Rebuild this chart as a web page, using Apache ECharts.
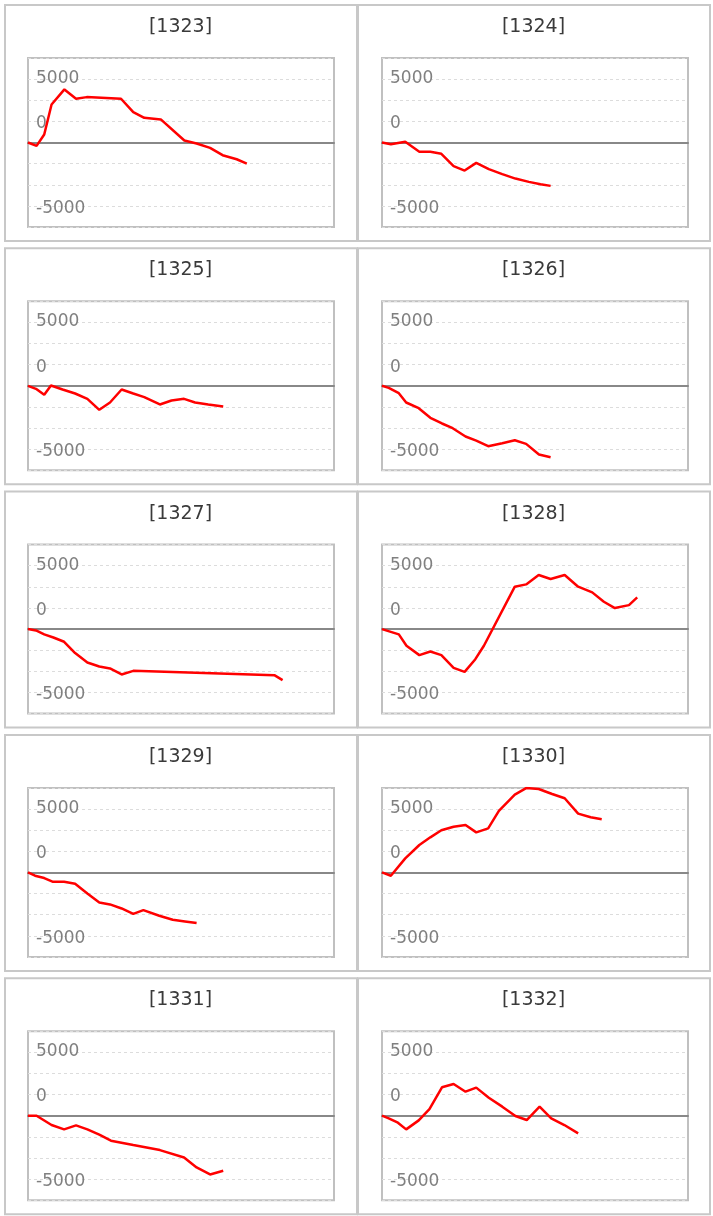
<!DOCTYPE html>
<html>
<head>
<meta charset="utf-8">
<script src="https://cdn.jsdelivr.net/npm/echarts@6/dist/echarts.min.js"></script>
<style>
html,body{margin:0;padding:0;background:#fff;}
#main{width:713px;height:1216px;}
</style>
</head>
<body>
<div id="main"></div>
<script>
// ---- data (x: position along the period 0..100, y: value) ----
const titles = ['[1323]','[1324]','[1325]','[1326]','[1327]','[1328]','[1329]','[1330]','[1331]','[1332]'];
const s1323 = [[0,0],[2.8,-400],[5.3,950],[7.7,4500],[11.9,6280],[15.7,5180],[19.2,5370],[30.4,5180],[34.4,3600],[38.0,2920],[43.4,2730],[51.1,240],[55.1,-120],[59.5,-630],[63.6,-1500],[68.2,-1980],[71.5,-2490]];
const s1324 = [[0,0],[2.9,-200],[7.6,80],[12.2,-1100],[15.8,-1100],[19.4,-1340],[23.4,-2800],[27.0,-3320],[30.8,-2410],[34.9,-3160],[39.3,-3750],[43.6,-4270],[48.0,-4660],[51.8,-4940],[55.1,-5135]];
const s1325 = [[0,0],[2.6,-355],[5.3,-1070],[7.5,40],[11.3,-435],[15.4,-910],[19.4,-1540],[23.3,-2840],[26.8,-1975],[30.6,-435],[34.4,-910],[38.0,-1340],[43.1,-2210],[46.9,-1740],[51.0,-1540],[54.6,-1975],[58.9,-2210],[63.8,-2450]];
const s1326 = [[0,0],[2.2,-240],[5.5,-870],[7.9,-1975],[12.0,-2650],[15.8,-3790],[19.6,-4460],[23.1,-5020],[27.3,-6000],[30.8,-6480],[34.7,-7150],[39.3,-6800],[43.4,-6440],[47.1,-6870],[51.3,-8140],[55.1,-8450]];
const s1327 = [[0,0],[2.6,-160],[5.3,-630],[8.3,-990],[11.8,-1500],[15.4,-2840],[19.4,-3950],[23.3,-4420],[26.8,-4660],[30.6,-5370],[34.4,-4940],[80.5,-5450],[83.2,-6040]];
const s1328 = [[0,0],[5.5,-630],[8.0,-1975],[12.2,-3080],[15.8,-2650],[19.4,-3080],[23.4,-4580],[27.0,-5060],[30.5,-3560],[33.3,-1975],[43.4,5020],[47.1,5290],[51.2,6400],[55.1,5925],[59.7,6400],[64.1,5020],[68.7,4345],[72.5,3240],[76.1,2490],[80.7,2840],[83.4,3750]];
const s1329 = [[0,0],[2.3,-395],[5.3,-670],[8.0,-1100],[11.8,-1100],[15.4,-1340],[19.4,-2490],[23.3,-3550],[26.8,-3790],[30.6,-4270],[34.4,-4900],[37.7,-4460],[42.9,-5135],[47.3,-5610],[51.3,-5810],[55.1,-6000]];
const s1330 = [[0,0],[2.9,-395],[7.6,1660],[12.2,3240],[15.8,4150],[19.4,4980],[23.4,5410],[27.3,5610],[30.8,4740],[34.7,5215],[38.2,7270],[43.4,9200],[47.1,9980],[51.2,9875],[55.6,9280],[59.7,8770],[64.1,6950],[68.2,6520],[71.8,6280]];
const s1331 = [[0,0],[2.8,0],[7.7,-1105],[11.8,-1620],[15.7,-1145],[19.4,-1620],[23.3,-2250],[27.1,-2960],[34.4,-3475],[43.1,-4070],[51.0,-4940],[55.1,-6120],[59.5,-6950],[63.8,-6520]];
const s1332 = [[0,0],[2.2,-315],[5.2,-830],[7.9,-1620],[12.0,-555],[15.5,790],[19.6,3360],[23.4,3750],[27.3,2840],[30.8,3320],[34.9,2130],[39.3,1070],[43.6,-40],[47.3,-515],[51.5,1070],[55.3,-315],[59.6,-1105],[64.1,-2090]];
const seriesData = [s1323,s1324,s1325,s1326,s1327,s1328,s1329,s1330,s1331,s1332];
const yLabelValues = [7500, 2500, -7500];
const yLabelTexts = ['5000', '0', '-5000'];

// ---- layout ----
const colX = [4, 357];
const rowPitch = 243.3;
const panelW = 354, panelH = 238;

const chart = echarts.init(document.getElementById('main'), null, {renderer: 'canvas'});
const grids = [], xAxes = [], yAxes = [], series = [], graphics = [];

seriesData.forEach((d, i) => {
  const col = i % 2, row = Math.floor(i / 2);
  const px = colX[col], py = 4 + rowPitch * row;
  graphics.push({
    type: 'rect', z: -10,
    shape: {x: px + 1, y: py + 1, width: panelW - 2, height: panelH - 2},
    style: {fill: '#fff', stroke: '#c8c8c8', lineWidth: 2}
  });
  graphics.push({
    type: 'text', z: 10,
    x: px + panelW / 2 - 0.5, y: py + 23,
    style: {
      text: titles[i], align: 'center', verticalAlign: 'middle',
      font: 'normal 19px "DejaVu Sans"', fill: '#3a3a3a'
    }
  });
  grids.push({
    left: px + 24 + (col ? 1 : 0), top: py + 54, width: 306, height: 169,
    show: true, borderColor: '#c0c0c0', borderWidth: 2, backgroundColor: '#fff'
  });
  xAxes.push({
    type: 'value', gridIndex: i, min: 0, max: 100,
    axisLine: {show: true, onZero: true, lineStyle: {color: '#888', width: 2}},
    axisTick: {show: false}, axisLabel: {show: false}, splitLine: {show: false}
  });
  yAxes.push({
    type: 'value', gridIndex: i, min: -10000, max: 10000, interval: 2500,
    axisLine: {show: false}, axisTick: {show: false},
    axisLabel: {
      inside: true, margin: 8,
      fontFamily: 'DejaVu Sans', fontSize: 17, color: '#808080',
      formatter: v => {
        const k = yLabelValues.indexOf(v);
        if (k < 0) return '';
        return (k === 0 ? '{a|' : '{b|') + yLabelTexts[k] + '}';
      },
      rich: {
        a: {fontFamily: 'DejaVu Sans', fontSize: 17, color: '#808080', padding: [0, 0, 1, 0]},
        b: {fontFamily: 'DejaVu Sans', fontSize: 17, color: '#808080', padding: [5, 0, 0, 0]}
      }
    },
    splitLine: {show: true, lineStyle: {color: '#dcdcdc', type: [3, 3], width: 1}}
  });
  series.push({
    type: 'line', xAxisIndex: i, yAxisIndex: i, data: d,
    showSymbol: false, symbol: 'none', animation: false,
    lineStyle: {color: '#ff0000', width: 2.5}, z: 5
  });
});

chart.setOption({
  animation: false,
  backgroundColor: '#fff',
  grid: grids,
  xAxis: xAxes,
  yAxis: yAxes,
  series: series,
  graphic: graphics
});
</script>
</body>
</html>
